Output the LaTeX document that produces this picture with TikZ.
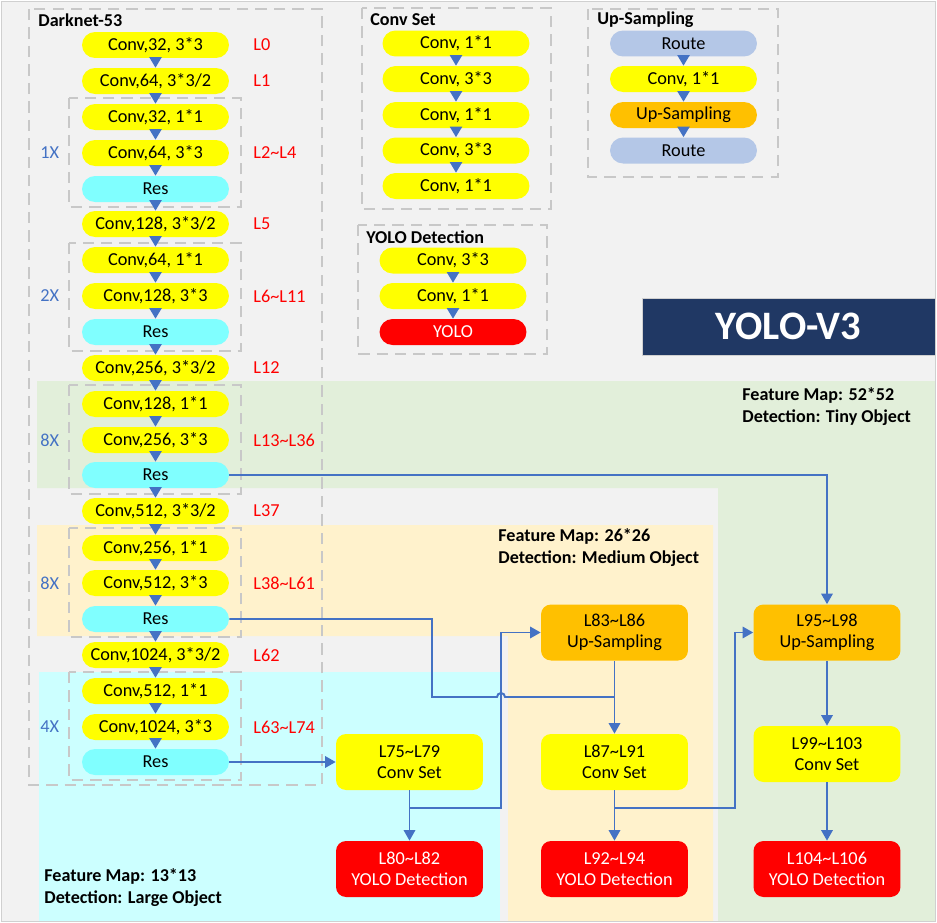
\documentclass[tikz,border=0pt]{standalone}
\usepackage{fontspec}
\setmainfont{Carlito}
\usetikzlibrary{arrows.meta}

\definecolor{bggray}{HTML}{F2F2F2}
\definecolor{framegray}{HTML}{D0D0D0}
\definecolor{dashgray}{HTML}{C8C8C8}
\definecolor{tinygreen}{HTML}{E2EFDA}
\definecolor{midorange}{HTML}{FFF2CC}
\definecolor{largecyan}{HTML}{CCFFFF}
\definecolor{convyellow}{HTML}{FFFF00}
\definecolor{rescyan}{HTML}{80FFFF}
\definecolor{yolored}{HTML}{FF0000}
\definecolor{upsorange}{HTML}{FFC000}
\definecolor{routeblue}{HTML}{B4C7E7}
\definecolor{linkblue}{HTML}{4472C4}
\definecolor{navy}{HTML}{203864}

\tikzset{
  pill/.style={rounded corners=0.26cm, minimum width=2.94cm, minimum height=0.52cm,
    inner sep=0pt, font=\fontsize{10.4}{12}\selectfont},
  conv/.style={pill, fill=convyellow},
  res/.style={pill, fill=rescyan},
  route/.style={pill, fill=routeblue},
  ups/.style={pill, fill=upsorange},
  yolo/.style={pill, fill=yolored, text=white},
  stage/.style={rounded corners=0.2cm, minimum width=2.94cm, minimum height=1.12cm,
    inner sep=0pt, align=center, font=\fontsize{10.4}{12.2}\selectfont},
  grpbox/.style={dashgray, line width=1.1pt, dash pattern=on 6.5pt off 4pt},
  heading/.style={anchor=west, inner sep=0pt, font=\bfseries\fontsize{10.3}{12.5}\selectfont},
  lname/.style={anchor=west, inner sep=0pt, text=yolored, font=\fontsize{10.4}{12}\selectfont},
  rep/.style={anchor=west, inner sep=0pt, text=linkblue, font=\fontsize{10.4}{12}\selectfont},
  smallarrow/.style={linkblue, line width=0.8pt, -{Triangle[width=7pt,length=6pt]}},
  link/.style={linkblue, line width=1.1pt, -{Triangle[width=6.5pt,length=6pt]}},
}

\begin{document}
\begin{tikzpicture}[x=0.02cm, y=-0.02cm]
    \useasboundingbox (0,0) rectangle (937,923);
    \fill[bggray] (1,1) rectangle (935,921);

    % feature map areas
    \fill[tinygreen] (37,381) -- (935,381) -- (935,921) -- (718,921) -- (718,488) -- (37,488) -- cycle;
    \fill[midorange] (37,525) -- (713,525) -- (713,921) -- (508,921) -- (508,636) -- (37,636) -- cycle;
    \fill[largecyan] (39,672) rectangle (500,921);

    % dashed boxes
    \draw[grpbox] (29,9) rectangle (322,785);
    \draw[grpbox] (69,98) rectangle (241,207);
    \draw[grpbox] (69,243) rectangle (241,351);
    \draw[grpbox] (69,385) rectangle (241,494);
    \draw[grpbox] (69,528) rectangle (241,637);
    \draw[grpbox] (69,672) rectangle (241,780);
    \draw[grpbox] (362,8) rectangle (551,209);
    \draw[grpbox] (358,225) rectangle (547,354);
    \draw[grpbox] (588,9) rectangle (778,177);

    % box titles
    \node[heading] (hdark) at (38,20) {Darknet-53};
    \node[heading] (hconv) at (370,20) {Conv Set};
    \node[heading] (hyolo) at (366,237) {YOLO Detection};
    \node[heading] (hups) at (597,20) {Up-Sampling};

    % darknet-53
    \node[conv] (d0) at (155.5,45) {Conv,32, 3*3};
    \node[conv] (d1) at (155.5,81) {Conv,64, 3*3/2};
    \node[conv] (d2) at (155.5,117) {Conv,32, 1*1};
    \node[conv] (d3) at (155.5,153) {Conv,64, 3*3};
    \node[res] (d4) at (155.5,189) {Res};
    \node[conv] (d5) at (155.5,224) {Conv,128, 3*3/2};
    \node[conv] (d6) at (155.5,260) {Conv,64, 1*1};
    \node[conv] (d7) at (155.5,296) {Conv,128, 3*3};
    \node[res] (d8) at (155.5,332) {Res};
    \node[conv] (d9) at (155.5,368) {Conv,256, 3*3/2};
    \node[conv] (d10) at (155.5,404) {Conv,128, 1*1};
    \node[conv] (d11) at (155.5,440) {Conv,256, 3*3};
    \node[res] (d12) at (155.5,475) {Res};
    \node[conv] (d13) at (155.5,511) {Conv,512, 3*3/2};
    \node[conv] (d14) at (155.5,548) {Conv,256, 1*1};
    \node[conv] (d15) at (155.5,583) {Conv,512, 3*3};
    \node[res] (d16) at (155.5,619) {Res};
    \node[conv] (d17) at (155.5,655) {Conv,1024, 3*3/2};
    \node[conv] (d18) at (155.5,691) {Conv,512, 1*1};
    \node[conv] (d19) at (155.5,727) {Conv,1024, 3*3};
    \node[res] (d20) at (155.5,762) {Res};

    % layer names
    \node[lname] (n0) at (253,45) {L0};
    \node[lname] (n1) at (253,81) {L1};
    \node[lname] (n3) at (253,153) {L2\textasciitilde L4};
    \node[lname] (n5) at (253,224) {L5};
    \node[lname] (n7) at (253,296) {L6\textasciitilde L11};
    \node[lname] (n9) at (253,368) {L12};
    \node[lname] (n11) at (253,440) {L13\textasciitilde L36};
    \node[lname] (n13) at (253,511) {L37};
    \node[lname] (n15) at (253,583) {L38\textasciitilde L61};
    \node[lname] (n17) at (253,655) {L62};
    \node[lname] (n19) at (253,727) {L63\textasciitilde L74};

    % repeats
    \node[rep] (r1) at (40,153) {1X};
    \node[rep] (r2) at (40,296) {2X};
    \node[rep] (r3) at (40,440) {8X};
    \node[rep] (r4) at (40,583) {8X};
    \node[rep] (r5) at (40,727) {4X};

    % conv set
    \node[conv] (cs1) at (456,43.5) {Conv, 1*1};
    \node[conv] (cs2) at (456,79) {Conv, 3*3};
    \node[conv] (cs3) at (456,115) {Conv, 1*1};
    \node[conv] (cs4) at (456,150.5) {Conv, 3*3};
    \node[conv] (cs5) at (456,186) {Conv, 1*1};

    % yolo detection
    \node[conv] (yd1) at (453,260.5) {Conv, 3*3};
    \node[conv] (yd2) at (453,296) {Conv, 1*1};
    \node[yolo] (yd3) at (453,332) {YOLO};

    % up-sampling
    \node[route] (us1) at (683.5,43.5) {Route};
    \node[conv] (us2) at (683.5,79) {Conv, 1*1};
    \node[ups] (us3) at (683.5,115) {Up-Sampling};
    \node[route] (us4) at (683.5,150.5) {Route};

    % small arrows
    \draw[smallarrow] (d0.south) -- (d1.north);
    \draw[smallarrow] (d1.south) -- (d2.north);
    \draw[smallarrow] (d2.south) -- (d3.north);
    \draw[smallarrow] (d3.south) -- (d4.north);
    \draw[smallarrow] (d4.south) -- (d5.north);
    \draw[smallarrow] (d5.south) -- (d6.north);
    \draw[smallarrow] (d6.south) -- (d7.north);
    \draw[smallarrow] (d7.south) -- (d8.north);
    \draw[smallarrow] (d8.south) -- (d9.north);
    \draw[smallarrow] (d9.south) -- (d10.north);
    \draw[smallarrow] (d10.south) -- (d11.north);
    \draw[smallarrow] (d11.south) -- (d12.north);
    \draw[smallarrow] (d12.south) -- (d13.north);
    \draw[smallarrow] (d13.south) -- (d14.north);
    \draw[smallarrow] (d14.south) -- (d15.north);
    \draw[smallarrow] (d15.south) -- (d16.north);
    \draw[smallarrow] (d16.south) -- (d17.north);
    \draw[smallarrow] (d17.south) -- (d18.north);
    \draw[smallarrow] (d18.south) -- (d19.north);
    \draw[smallarrow] (d19.south) -- (d20.north);
    \draw[smallarrow] (cs1.south) -- (cs2.north);
    \draw[smallarrow] (cs2.south) -- (cs3.north);
    \draw[smallarrow] (cs3.south) -- (cs4.north);
    \draw[smallarrow] (cs4.south) -- (cs5.north);
    \draw[smallarrow] (yd1.south) -- (yd2.north);
    \draw[smallarrow] (yd2.south) -- (yd3.north);
    \draw[smallarrow] (us1.south) -- (us2.north);
    \draw[smallarrow] (us2.south) -- (us3.north);
    \draw[smallarrow] (us3.south) -- (us4.north);

    % title
    \node[fill=navy, draw=framegray, text=white, minimum width=5.86cm, minimum height=1.14cm,
      inner sep=0pt, font=\bfseries\fontsize{23}{27}\selectfont] (ttl) at (788.5,326.5) {YOLO-V3};

    % feature map notes
    \node[heading, align=left] (fm52) at (742,407) {Feature Map: 52*52\\Detection: Tiny Object};
    \node[heading, align=left] (fm26) at (498,548) {Feature Map: 26*26\\Detection: Medium Object};
    \node[heading, align=left] (fm13) at (44,887.5) {Feature Map: 13*13\\Detection: Large Object};

    % detection branches
    \node[stage, fill=convyellow] (c1) at (409.5,762) {L75\textasciitilde L79\\Conv Set};
    \node[stage, fill=yolored, text=white] (y1) at (409.5,869) {L80\textasciitilde L82\\YOLO Detection};
    \node[stage, fill=upsorange] (u1) at (614.5,632.5) {L83\textasciitilde L86\\Up-Sampling};
    \node[stage, fill=convyellow] (c2) at (614.5,762) {L87\textasciitilde L91\\Conv Set};
    \node[stage, fill=yolored, text=white] (y2) at (614.5,869) {L92\textasciitilde L94\\YOLO Detection};
    \node[stage, fill=upsorange] (u2) at (827,632.5) {L95\textasciitilde L98\\Up-Sampling};
    \node[stage, fill=convyellow] (c3) at (827,754) {L99\textasciitilde L103\\Conv Set};
    \node[stage, fill=yolored, text=white] (y3) at (827,869) {L104\textasciitilde L106\\YOLO Detection};

    % joints
    \coordinate (j1) at (614.5,697);
    \coordinate (j2) at (409.5,808);
    \coordinate (j3) at (614.5,808);
    \coordinate (k1) at (501,632.5);
    \coordinate (k2) at (735,632.5);

    % connectors
    \draw[link] (d12.east) -| (u2.north);
    \draw[linkblue, line width=1.1pt] (d16.east) -- (432,619) -- (432,697) -- (497,697)
      arc[start angle=180, end angle=0, radius=0.08cm] -- (j1);
    \draw[link] (d20.east) -- (c1.west);
    \draw[link] (c1.south) -- (y1.north);
    \draw[link] (j2) -| (k1) -- (u1.west);
    \draw[link] (u1.south) -- (c2.north);
    \draw[link] (c2.south) -- (y2.north);
    \draw[link] (j3) -| (k2) -- (u2.west);
    \draw[link] (u2.south) -- (c3.north);
    \draw[link] (c3.south) -- (y3.north);

    \draw[framegray] (1,1) rectangle (935,921);
\end{tikzpicture}
\end{document}
